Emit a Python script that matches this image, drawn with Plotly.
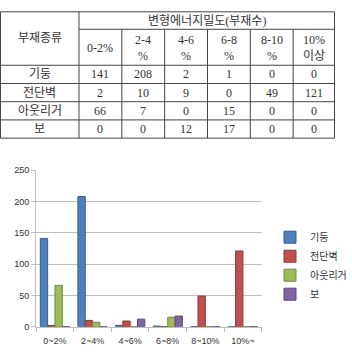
import plotly.graph_objects as go

W, H = 352, 355

# ---- data ----
categories = ["0~2%", "2~4%", "4~6%", "6~8%", "8~10%", "10%~"]
table_cols = ["0-2%", "2-4<br>%", "4-6<br>%", "6-8<br>%", "8-10<br>%", "10%<br>이상"]
members = ["기둥", "전단벽", "아웃리거", "보"]
col_vals = [141, 208, 2, 1, 0, 0]
wall_vals = [2, 10, 9, 0, 49, 121]
outrig_vals = [66, 7, 0, 15, 0, 0]
beam_vals = [0, 0, 12, 17, 0, 0]
series = [col_vals, wall_vals, outrig_vals, beam_vals]
colors = ["#4F81BD", "#C0504D", "#9BBB59", "#8064A2"]
edge_colors = ["#385D8A", "#8C3836", "#71893F", "#5C4776"]
y_ticks = [0, 50, 100, 150, 200, 250]


def px(x):
    return x / W


def py(y):
    return 1 - y / H


fig = go.Figure()
for name, vals, c, ec in zip(members, series, colors, edge_colors):
    fig.add_trace(go.Bar(x=categories, y=vals, name=name,
                         marker=dict(color=c, line=dict(color=ec, width=1))))

# ---- table drawn as shapes + text ----
shapes = []
annotations = []
line_style = dict(color="#444444", width=1)
tbl_left, tbl_right = 0.5, 351.5
col_x = [0.5, 83, 128, 173, 218, 263, 308, 351.5]
row_y = [7, 25, 62, 80.75, 99.5, 118.25, 137]

# horizontal lines
for i, yy in enumerate(row_y):
    x0 = col_x[1] if i == 1 else tbl_left
    shapes.append(dict(type="line", xref="paper", yref="paper",
                       x0=px(x0), x1=px(tbl_right), y0=py(yy), y1=py(yy), line=line_style))
# vertical lines
for i, xx in enumerate(col_x):
    y0 = row_y[0] if i in (0, 1, len(col_x) - 1) else row_y[1]
    shapes.append(dict(type="line", xref="paper", yref="paper",
                       x0=px(xx), x1=px(xx), y0=py(y0), y1=py(row_y[-1]), line=line_style))

tfont = dict(family="Liberation Serif, Noto Sans CJK KR", size=12, color="#333333")


def ann(text, x, y):
    annotations.append(dict(text=text, x=px(x), y=py(y), xref="paper", yref="paper",
                            xanchor="center", yanchor="middle", showarrow=False, font=tfont))


ann("부재종류", (col_x[0] + col_x[1]) / 2, 34)
ann("변형에너지밀도(부재수)", (col_x[1] + col_x[-1]) / 2, 16)
for j, t in enumerate(table_cols):
    ann(t, (col_x[j + 1] + col_x[j + 2]) / 2, 44)
for i, (m, vals) in enumerate(zip(members, series)):
    yc = (row_y[i + 2] + row_y[i + 3]) / 2
    ann(m, (col_x[0] + col_x[1]) / 2, yc)
    for j, v in enumerate(vals):
        ann(str(v), (col_x[j + 1] + col_x[j + 2]) / 2, yc)

cfont = dict(family="Liberation Sans, Noto Sans CJK KR", size=9, color="#333333")
fig.update_layout(
    width=W, height=H,
    margin=dict(l=0, r=0, t=0, b=0),
    paper_bgcolor="white", plot_bgcolor="white",
    barmode="group", bargap=0.22, bargroupgap=0.0,
    shapes=shapes, annotations=annotations,
    xaxis=dict(domain=[px(38), px(275)], tickfont=cfont, showgrid=False,
               showline=True, linecolor="#BFBFBF", ticks="outside", ticklen=4,
               tickcolor="#BFBFBF", tickson="boundaries", ticklabelstandoff=6,
               fixedrange=True),
    yaxis=dict(domain=[py(331), py(170)], range=[0, 250], tickvals=y_ticks,
               tickfont=cfont, showgrid=True, gridcolor="#BFBFBF", gridwidth=1,
               showline=True, linecolor="#BFBFBF", ticks="outside", ticklen=4,
               tickcolor="#BFBFBF", zeroline=False, fixedrange=True),
    legend=dict(x=px(284), y=py(224), xanchor="left", yanchor="top",
                font=dict(family="Noto Sans CJK KR, Liberation Sans", size=10, color="#333333"),
                itemwidth=30, tracegroupgap=0, bgcolor="rgba(0,0,0,0)"),
    showlegend=True,
)

fig.write_html("out.html")
